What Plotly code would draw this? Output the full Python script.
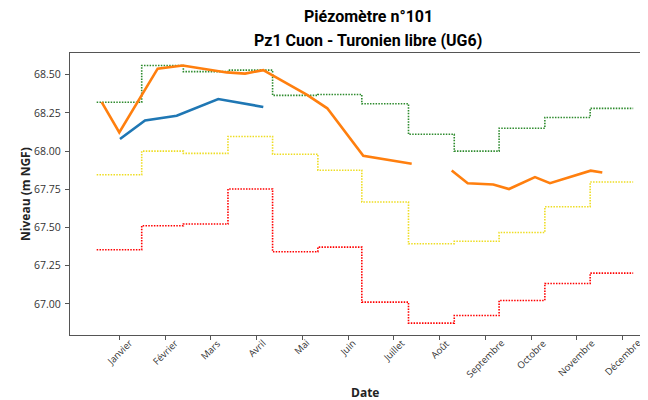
import plotly.graph_objects as go

# mois (positions numériques : Janvier = 1 ... Décembre = 12)
mois = ['Janvier', 'Février', 'Mars', 'Avril', 'Mai', 'Juin', 'Juillet',
        'Août', 'Septembre', 'Octobre', 'Novembre', 'Décembre']
mois_pos = list(range(1, 13))

# limites des paliers mensuels (début de chaque mois + fin d'année)
paliers_x = [0.506, 1.49, 2.40, 3.375, 4.35, 5.34, 6.30, 7.32, 8.32, 9.30,
             10.30, 11.29, 12.23]

# niveaux de référence mensuels (m NGF)
niv_haut = [68.32, 68.56, 68.52, 68.53, 68.365, 68.37, 68.31, 68.11, 68.00,
            68.15, 68.22, 68.28]
niv_moyen = [67.845, 68.00, 67.985, 68.096, 67.98, 67.875, 67.667, 67.394,
             67.41, 67.468, 67.636, 67.798]
niv_bas = [67.355, 67.512, 67.523, 67.752, 67.342, 67.372, 67.012, 66.875,
           66.925, 67.023, 67.134, 67.202]

# mesures (bleu)
mes_bleu_x = [1.015, 1.562, 2.254, 3.163, 4.147]
mes_bleu_y = [68.079, 68.20, 68.232, 68.341, 68.289]

# mesures (orange), None = lacune
mes_orange_x = [0.615, 1.0, 1.839, 2.385, 3.347, 3.747, 4.147, 5.095, 5.545,
                6.332, 7.39, 7.8, 8.264, 8.614, 9.173, 9.516, 10.084, 10.412,
                11.301, 11.555]
mes_orange_y = [68.32, 68.122, 68.54, 68.56, 68.515, 68.507, 68.53, 68.369,
                68.28, 67.97, 67.918, None, 67.874, 67.79, 67.782, 67.752,
                67.83, 67.79, 67.872, 67.86]


def palier(vals):
    return vals + [vals[-1]]


fig = go.Figure()

for vals, col in [(niv_haut, '#2e8b2e'), (niv_moyen, '#eedd22'), (niv_bas, 'red')]:
    fig.add_trace(go.Scatter(
        x=paliers_x, y=palier(vals), mode='lines', line_shape='hv',
        line=dict(color=col, width=1.6, dash='1.5px,1.3px'),
        showlegend=False, hoverinfo='skip'))

fig.add_trace(go.Scatter(x=mes_bleu_x, y=mes_bleu_y, mode='lines',
                         line=dict(color='#1f77b4', width=2.6), showlegend=False))
fig.add_trace(go.Scatter(x=mes_orange_x, y=mes_orange_y, mode='lines',
                         connectgaps=False,
                         line=dict(color='#ff7f0e', width=2.6), showlegend=False))

tick_font = dict(family='Open Sans', size=10.5, color='#333')
xtick_font = dict(family='Open Sans', size=9.5, color='#333')

annotations = []
for pos, lab in zip(mois_pos, mois):
    annotations.append(dict(x=pos, y=0.004, xref='x', yref='paper', text=lab,
                            showarrow=False, textangle=-45, xanchor='center',
                            yanchor='top', font=xtick_font))

titre = dict(family='Roboto', size=16, color='black')
label_font = dict(family='Open Sans', size=12, color='#222')
annotations += [
    dict(x=0.516, y=1.1277, xref='paper', yref='paper', showarrow=False,
         text='<b>Piézomètre n°101</b>', font=titre,
         xanchor='center', yanchor='middle'),
    dict(x=0.516, y=1.0426, xref='paper', yref='paper', showarrow=False,
         text='<b>Pz1 Cuon - Turonien libre (UG6)</b>', font=titre,
         xanchor='center', yanchor='middle'),
    dict(x=-0.078, y=0.5, xref='paper', yref='paper', showarrow=False,
         text='<b>Niveau (m NGF)</b>', textangle=-90, font=label_font,
         xanchor='center', yanchor='middle'),
    dict(x=0.51, y=-0.203, xref='paper', yref='paper', showarrow=False,
         text='<b>Date</b>', font=label_font, xanchor='center', yanchor='middle'),
]

# la page ajoute une marge de 8 px : le tracé est décalé d'autant
fig.update_layout(
    width=648, height=400, autosize=False,
    margin=dict(l=62, r=8, t=45, b=73, autoexpand=False),
    plot_bgcolor='white', paper_bgcolor='white',
    annotations=annotations,
    xaxis=dict(range=[-0.077, 12.554], tickvals=mois_pos, showticklabels=False,
               ticks='outside', ticklen=4, tickcolor='#555', showgrid=False,
               zeroline=False, showline=True, linecolor='#555', linewidth=1.2,
               mirror=True, automargin=False),
    yaxis=dict(range=[66.797, 68.642], tickvals=[67.0, 67.25, 67.5, 67.75, 68.0, 68.25, 68.5],
               tickformat='.2f', ticks='outside', ticklen=4, tickcolor='#555',
               tickfont=tick_font, ticklabelstandoff=2, showgrid=False,
               zeroline=False, showline=True, linecolor='#555', linewidth=1.2,
               automargin=False),
)

fig.write_html('out.html')
